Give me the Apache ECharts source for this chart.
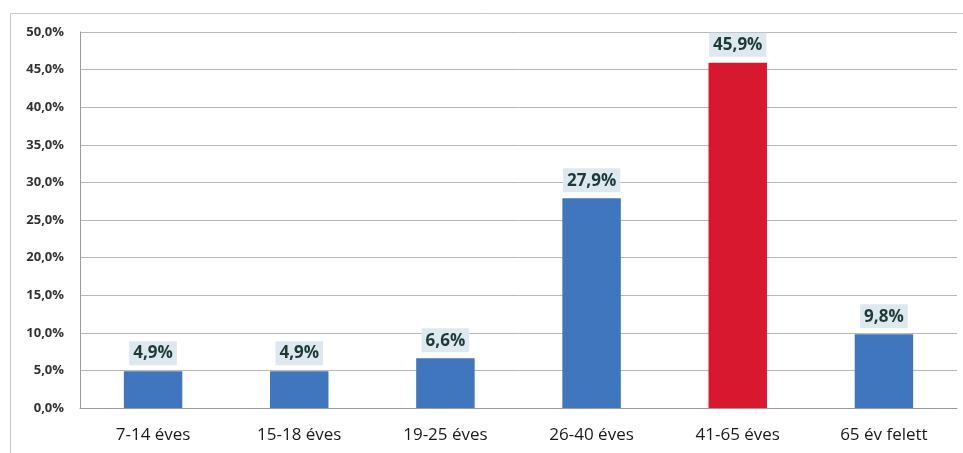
<!DOCTYPE html>
<html>
<head>
<meta charset="utf-8">
<script src="https://cdn.jsdelivr.net/npm/echarts@6/dist/echarts.min.js"></script>
<style>
html, body { margin: 0; padding: 0; background: #fff; }
#main { width: 963px; height: 453px; }
</style>
</head>
<body>
<div id="main"></div>
<script>
var categories = ["7-14 éves", "15-18 éves", "19-25 éves", "26-40 éves", "41-65 éves", "65 év felett"];
var values = [4.9, 4.9, 6.6, 27.9, 45.9, 9.8];
var barColors = ["#3f76be", "#3f76be", "#3f76be", "#3f76be", "#d7182f", "#3f76be"];

var chart = echarts.init(document.getElementById("main"));

var option = {
  animation: false,
  graphic: [
    {
      type: "rect",
      shape: { x: 10.5, y: 13.5, width: 1000, height: 500 },
      style: { fill: "none", stroke: "#c8c8c8", lineWidth: 1 },
      silent: true
    }
  ],
  grid: {
    left: 80,
    right: 6,
    top: 32,
    bottom: 45
  },
  xAxis: {
    type: "category",
    data: categories,
    axisTick: { show: false },
    axisLine: { lineStyle: { color: "#9a9a9a" } },
    axisLabel: {
      color: "#1a1a1a",
      fontSize: 17,
      fontFamily: "Open Sans",
      margin: 19
    }
  },
  yAxis: {
    type: "value",
    min: 0,
    max: 50,
    interval: 5,
    axisLine: { show: true, lineStyle: { color: "#9a9a9a" } },
    axisTick: { show: false },
    splitLine: { lineStyle: { color: "#b8b8b8" } },
    axisLabel: {
      color: "#333",
      fontSize: 13,
      fontWeight: "bold",
      fontFamily: "Open Sans",
      margin: 16,
      formatter: function (v) {
        return v.toFixed(1).replace(".", ",") + "%";
      }
    }
  },
  series: [
    {
      type: "bar",
      barWidth: "40%",
      data: values.map(function (v, i) {
        return { value: v, itemStyle: { color: barColors[i] } };
      }),
      label: {
        show: true,
        position: "top",
        distance: 6,
        color: "#1d3a38",
        fontSize: 17,
        fontWeight: "bold",
        fontFamily: "Open Sans",
        backgroundColor: "#dde9ee",
        padding: [4, 4, 3, 4],
        formatter: function (p) {
          return p.value.toFixed(1).replace(".", ",") + "%";
        }
      }
    }
  ]
};

chart.setOption(option);
</script>
</body>
</html>
